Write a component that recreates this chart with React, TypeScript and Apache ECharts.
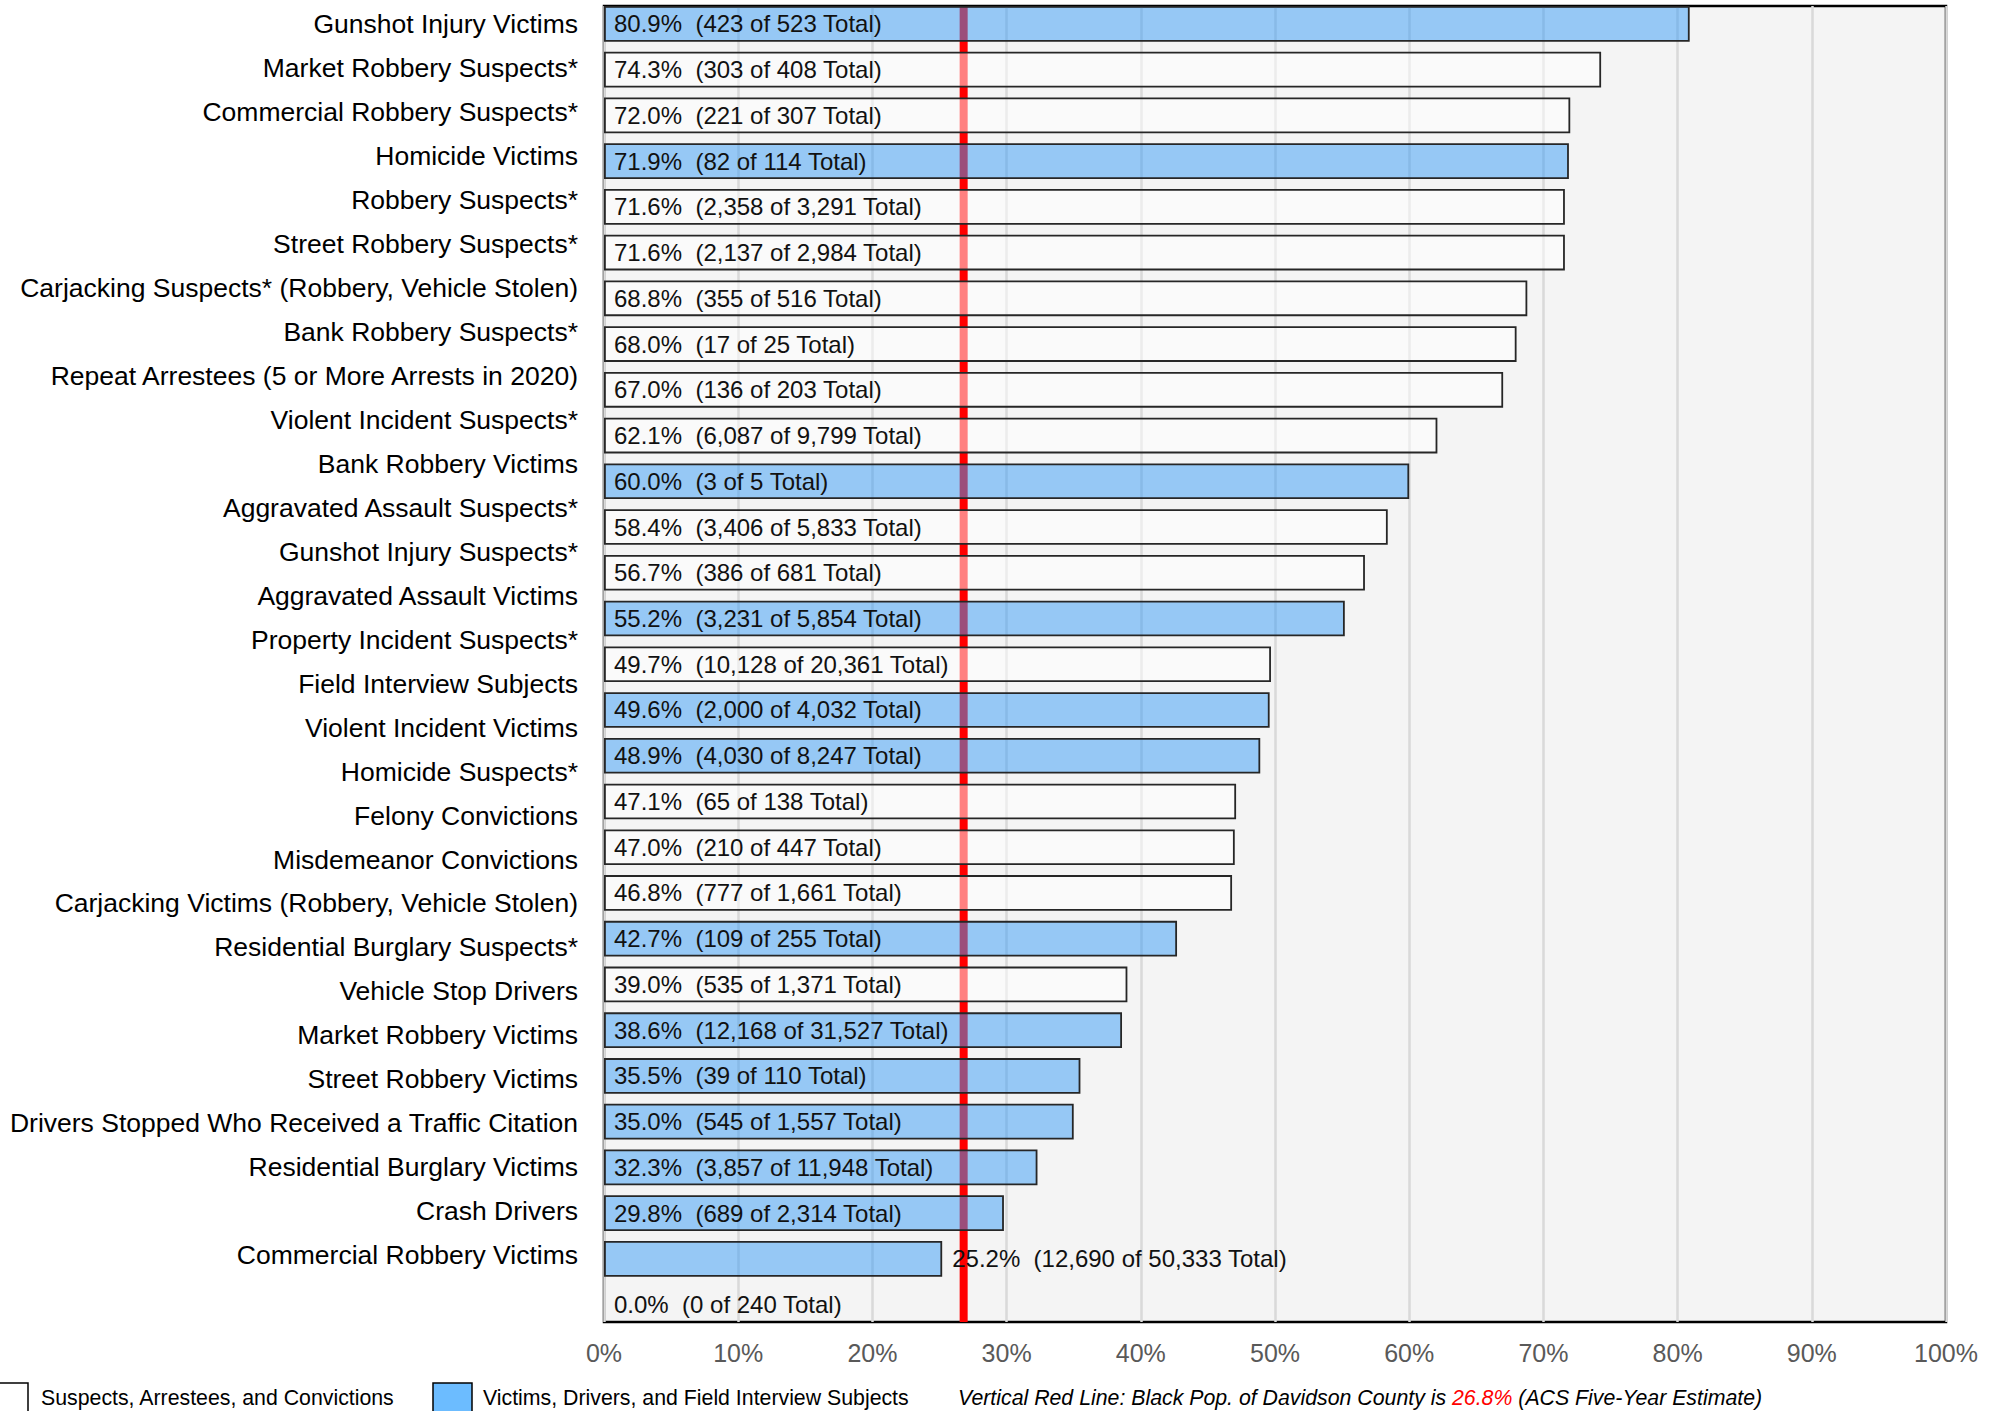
import React, { useEffect, useRef } from "react";
import * as echarts from "echarts";

const categories = [
  "Gunshot Injury Victims",
  "Market Robbery Suspects*",
  "Commercial Robbery Suspects*",
  "Homicide Victims",
  "Robbery Suspects*",
  "Street Robbery Suspects*",
  "Carjacking Suspects* (Robbery, Vehicle Stolen)",
  "Bank Robbery Suspects*",
  "Repeat Arrestees (5 or More Arrests in 2020)",
  "Violent Incident Suspects*",
  "Bank Robbery Victims",
  "Aggravated Assault Suspects*",
  "Gunshot Injury Suspects*",
  "Aggravated Assault Victims",
  "Property Incident Suspects*",
  "Field Interview Subjects",
  "Violent Incident Victims",
  "Homicide Suspects*",
  "Felony Convictions",
  "Misdemeanor Convictions",
  "Carjacking Victims (Robbery, Vehicle Stolen)",
  "Residential Burglary Suspects*",
  "Vehicle Stop Drivers",
  "Market Robbery Victims",
  "Street Robbery Victims",
  "Drivers Stopped Who Received a Traffic Citation",
  "Residential Burglary Victims",
  "Crash Drivers",
  "Commercial Robbery Victims",
];

const percents = [
  80.9, 74.3, 72.0, 71.9, 71.6, 71.6, 68.8, 68.0, 67.0, 62.1, 60.0, 58.4, 56.7, 55.2, 49.7,
  49.6, 48.9, 47.1, 47.0, 46.8, 42.7, 39.0, 38.6, 35.5, 35.0, 32.3, 29.8, 25.2, 0.0,
];

const counts = [
  423, 303, 221, 82, 2358, 2137, 355, 17, 136, 6087, 3, 3406, 386, 3231, 10128, 2000, 4030, 65,
  210, 777, 109, 535, 12168, 39, 545, 3857, 689, 12690, 0,
];

const totals = [
  523, 408, 307, 114, 3291, 2984, 516, 25, 203, 9799, 5, 5833, 681, 5854, 20361, 4032, 8247,
  138, 447, 1661, 255, 1371, 31527, 110, 1557, 11948, 2314, 50333, 240,
];

// "V" = Victims, Drivers, and Field Interview Subjects; "S" = Suspects, Arrestees, and Convictions
const groups = [
  "V", "S", "S", "V", "S", "S", "S", "S", "S", "S", "V", "S", "S", "V", "S", "V", "V", "S", "S",
  "S", "V", "S", "V", "V", "V", "V", "V", "V", "S",
];

const legendLabels = [
  "Suspects, Arrestees, and Convictions",
  "Victims, Drivers, and Field Interview Subjects",
];

const blackPopPct = 26.8;

const FONT = "'Liberation Sans', Arial, Helvetica, sans-serif";

export default function App() {
  const ref = useRef<HTMLDivElement>(null);

  useEffect(() => {
    if (!ref.current) return;
    const chart = echarts.init(ref.current, undefined, { renderer: "svg" });

    const fmt = (n: number) => n.toLocaleString("en-US");

    const barData = percents.map((p, i) => {
      const isV = groups[i] === "V";
      const outside = p > 0 && p < 27;
      return {
        value: p,
        itemStyle: {
          color: isV ? "rgba(56,156,246,0.5)" : "rgba(255,255,255,0.5)",
          borderColor: "#262626",
          borderWidth: p > 0 ? 1.8 : 0,
        },
        label: {
          position: outside ? "right" : "insideLeft",
          distance: 10,
        },
      };
    });

    const option: any = {
      animation: false,
      backgroundColor: "#ffffff",
      grid: [
        {
          left: 604,
          top: 6,
          width: 1342,
          height: 1316,
          show: true,
          backgroundColor: "#f4f4f4",
          borderColor: "#000000",
          borderWidth: 2.5,
        },
        { left: 604, top: 1, width: 1342, height: 1326.5, show: false },
        { left: 604, top: 2.2, width: 1342, height: 1275, show: false },
      ],
      xAxis: [
        {
          gridIndex: 0,
          type: "value",
          min: 0,
          max: 100,
          interval: 10,
          axisLabel: {
            formatter: "{value}%",
            fontSize: 25,
            color: "#595959",
            margin: 18,
            fontFamily: FONT,
          },
          splitLine: { show: true, lineStyle: { color: "#d9d9d9", width: 2.5 } },
          axisLine: { show: false },
          axisTick: { show: false },
        },
        { gridIndex: 1, type: "value", min: 0, max: 100, show: false },
        { gridIndex: 2, type: "value", min: 0, max: 100, show: false },
      ],
      yAxis: [
        { gridIndex: 0, type: "value", min: 0, max: 1, show: false },
        { gridIndex: 1, type: "category", data: categories, inverse: true, show: false },
        {
          gridIndex: 2,
          type: "category",
          data: categories,
          inverse: true,
          axisLine: { show: false },
          axisTick: { show: false },
          splitLine: { show: false },
          axisLabel: {
            fontSize: 26.5,
            color: "#000000",
            margin: 26,
            fontFamily: FONT,
            interval: 0,
          },
        },
      ],
      series: [
        {
          type: "line",
          xAxisIndex: 0,
          yAxisIndex: 0,
          data: [
            [blackPopPct, 0],
            [blackPopPct, 1],
          ],
          symbol: "none",
          lineStyle: { color: "#ff0000", width: 8, cap: "butt" },
          z: 1,
          silent: true,
        },
        {
          type: "bar",
          xAxisIndex: 1,
          yAxisIndex: 1,
          barCategoryGap: "22%",
          z: 3,
          data: barData,
          label: {
            show: true,
            fontSize: 24,
            color: "#111111",
            fontFamily: FONT,
            formatter: (p: any) =>
              `${percents[p.dataIndex].toFixed(1)}%  (${fmt(counts[p.dataIndex])} of ${fmt(
                totals[p.dataIndex]
              )} Total)`,
          },
        },
        {
          type: "scatter",
          xAxisIndex: 2,
          yAxisIndex: 2,
          data: [],
          silent: true,
        },
      ],
      graphic: [
        {
          type: "rect",
          shape: { x: -12, y: 1383, width: 40, height: 40 },
          style: { fill: "#ffffff", stroke: "#000000", lineWidth: 1.5 },
        },
        {
          type: "text",
          x: 41,
          y: 1398,
          style: {
            text: legendLabels[0],
            fontSize: 21.3,
            fontFamily: FONT,
            fill: "#000000",
            verticalAlign: "middle",
          },
        },
        {
          type: "rect",
          shape: { x: 433, y: 1383, width: 39, height: 40 },
          style: { fill: "#6cbcff", stroke: "#000000", lineWidth: 1.5 },
        },
        {
          type: "text",
          x: 483,
          y: 1398,
          style: {
            text: legendLabels[1],
            fontSize: 21.3,
            fontFamily: FONT,
            fill: "#000000",
            verticalAlign: "middle",
          },
        },
        {
          type: "text",
          x: 958,
          y: 1398,
          style: {
            text: `{a|Vertical Red Line: Black Pop. of Davidson County is }{r|${blackPopPct.toFixed(
              1
            )}%}{a| (ACS Five-Year Estimate)}`,
            verticalAlign: "middle",
            fontSize: 21.3,
            fontFamily: FONT,
            fontStyle: "italic",
            fill: "#000000",
            rich: {
              a: { fontSize: 21.3, fontFamily: FONT, fontStyle: "italic", fill: "#000000", color: "#000000" },
              r: { fontSize: 21.3, fontFamily: FONT, fontStyle: "italic", fill: "#ff0000", color: "#ff0000" },
            },
          },
        },
      ],
    };

    chart.setOption(option);
    return () => chart.dispose();
  }, []);

  return (
    <div
      ref={ref}
      style={{ position: "fixed", left: 0, top: 0, width: 1998, height: 1411 }}
    />
  );
}
